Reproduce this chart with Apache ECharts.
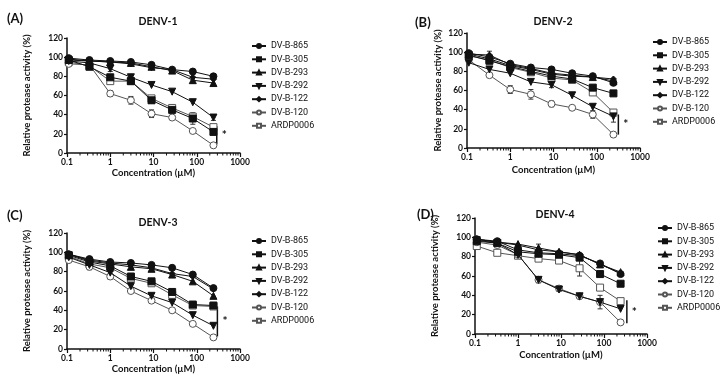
<!DOCTYPE html>
<html>
<head>
<meta charset="utf-8">
<script src="https://cdn.jsdelivr.net/npm/echarts@6/dist/echarts.min.js"></script>
<style>html,body{margin:0;background:#fff}#chart{width:721px;height:378px}</style>
</head>
<body>
<div id="chart"></div>
<script>
// concentrations (3-fold dilution, µM)
const conc = [0.11, 0.33, 1, 3, 9, 27, 81, 243];
const compounds = ['DV-B-865', 'DV-B-305', 'DV-B-293', 'DV-B-292', 'DV-B-122', 'DV-B-120', 'ARDP0006'];
const panelTitles = ['DENV-1', 'DENV-2', 'DENV-3', 'DENV-4'];
const panelLetters = ['(A)', '(B)', '(C)', '(D)'];
const xTicks = [0.1, 1, 10, 100, 1000];

// relative protease activity (%), rows follow compounds order
const denv1 = [
    [99, 97, 96, 95, 92, 87, 85, 80],
    [97, 90, 79, 75, 55, 45, 36, 22],
    [98, 96, 95, 94, 90, 86, 76, 73],
    [96, 94, 88, 79, 71, 64, 53, 37],
    [97, 96, 95, 93, 89, 87, 79, 77],
    [93, 92, 62, 55, 41, 37, 23, 8],
    [95, 91, 75, 75, 57, 47, 38, 27]
];
const denv2 = [
    [99, 95, 88, 84, 82, 78, 75, 68],
    [97, 91, 85, 80, 75, 72, 63, 57],
    [98, 97, 87, 83, 78, 76, 74, 70],
    [89, 82, 78, 69, 66, 55, 43, 33],
    [98, 93, 86, 82, 77, 75, 74, 72],
    [92, 76, 61, 56, 46, 42, 35, 14],
    [96, 92, 84, 79, 73, 71, 58, 37]
];
const denv3 = [
    [98, 93, 90, 89, 87, 84, 77, 63],
    [97, 90, 86, 75, 70, 59, 46, 45],
    [98, 91, 88, 85, 83, 77, 70, 55],
    [95, 87, 79, 65, 55, 48, 35, 24],
    [98, 92, 89, 87, 84, 78, 75, 62],
    [92, 85, 75, 60, 50, 40, 26, 12],
    [96, 88, 84, 73, 68, 56, 45, 44]
];
const denv4 = [
    [98, 96, 87, 84, 83, 81, 73, 62],
    [96, 94, 85, 83, 82, 79, 62, 52],
    [98, 95, 93, 89, 85, 82, 72, 64],
    [97, 94, 82, 56, 46, 39, 33, 26],
    [98, 95, 92, 87, 85, 82, 72, 63],
    [95, 92, 82, 56, 47, 39, 33, 12],
    [91, 84, 81, 78, 76, 68, 48, 34]
];

// error bars: [compound index, concentration index, +/- error]
const errors1 = [[5, 2, 3], [5, 3, 4], [5, 4, 4], [1, 6, 6], [3, 7, 3], [3, 2, 3], [1, 4, 3], [6, 5, 3], [2, 6, 3]];
const errors2 = [[2, 1, 4], [5, 2, 4], [5, 3, 5], [5, 4, 3], [5, 6, 4], [3, 7, 6], [6, 7, 3], [3, 4, 3]];
const errors3 = [[5, 1, 3], [5, 2, 3], [1, 3, 2]];
const errors4 = [[2, 3, 4], [6, 5, 8], [3, 6, 7], [3, 3, 3], [5, 4, 3], [0, 4, 2]];

// significance bars: [x, low, high]
const sigBars = [[290, 9, 28], [316, 14, 35], [300, 13, 44], [340, 11, 35]];

const panelData = [denv1, denv2, denv3, denv4];
const panelErrors = [errors1, errors2, errors3, errors4];

const grids = [
    { left: 67, top: 38, width: 173, height: 115 },
    { left: 467, top: 33, width: 173, height: 115 },
    { left: 67, top: 233, width: 173, height: 116 },
    { left: 475, top: 218, width: 172, height: 116 }
];
const yNameGaps = [35, 24, 35, 35];
const xNameGaps = [15, 17, 14, 16];
const legendPos = [[251, 41], [652, 37], [251, 236], [657, 223]];
const titlePos = [[153, 11], [548, 11], [153, 212], [550, 204]];
const letterPos = [[2, 7], [410, 11], [2, 204], [412, 203]];

const FONT = 'Lato';
const downTri = 'path://M0,0L10,0L5,9Z';
const styles = [
    { symbol: 'circle', size: 7, fill: '#111', stroke: '#111' },
    { symbol: 'rect', size: 7, fill: '#111', stroke: '#111' },
    { symbol: 'triangle', size: 7, fill: '#111', stroke: '#111' },
    { symbol: downTri, size: 7, fill: '#111', stroke: '#111' },
    { symbol: 'diamond', size: 6, fill: '#111', stroke: '#111' },
    { symbol: 'circle', size: 7, fill: '#fff', stroke: '#555' },
    { symbol: 'rect', size: 7, fill: '#fff', stroke: '#555' }
];

// minor tick values of the log axis
const minorTicks = [];
for (let d = 0.1; d < 1000; d *= 10) {
    for (let k = 2; k <= 9; k++) minorTicks.push(+(d * k).toPrecision(3));
}

function errRender(params, api) {
    const x = api.value(0);
    const lo = api.coord([x, api.value(1)]);
    const hi = api.coord([x, api.value(2)]);
    const w = 2.5;
    const st = { stroke: '#333', lineWidth: 1 };
    return {
        type: 'group',
        children: [
            { type: 'line', shape: { x1: lo[0], y1: lo[1], x2: hi[0], y2: hi[1] }, style: st },
            { type: 'line', shape: { x1: lo[0] - w, y1: lo[1], x2: lo[0] + w, y2: lo[1] }, style: st },
            { type: 'line', shape: { x1: hi[0] - w, y1: hi[1], x2: hi[0] + w, y2: hi[1] }, style: st }
        ]
    };
}

function minorRender(params, api) {
    const p = api.coord([api.value(0), 0]);
    return {
        type: 'line',
        shape: { x1: p[0], y1: p[1], x2: p[0], y2: p[1] + 2.5 },
        style: { stroke: '#111', lineWidth: 1 }
    };
}

function sigRender(params, api) {
    const x = api.value(0);
    const lo = api.coord([x, api.value(1)]);
    const hi = api.coord([x, api.value(2)]);
    return {
        type: 'group',
        children: [
            { type: 'line', shape: { x1: lo[0], y1: lo[1], x2: hi[0], y2: hi[1] }, style: { stroke: '#111', lineWidth: 1.5 } },
            { type: 'text', x: lo[0] + 5, y: (lo[1] + hi[1]) / 2, style: { text: '*', fill: '#111', font: 'bold 12px ' + FONT, textVerticalAlign: 'middle' } }
        ]
    };
}

const option = {
    animation: false,
    backgroundColor: '#fff',
    title: [],
    grid: grids,
    xAxis: [],
    yAxis: [],
    legend: [],
    series: []
};

panelData.forEach((rows, p) => {
    option.title.push({
        text: panelTitles[p], left: titlePos[p][0], top: titlePos[p][1],
        textAlign: 'center',
        textStyle: { fontFamily: FONT, fontSize: 10.5, fontWeight: 'bold', color: '#111' }
    });
    option.title.push({
        text: panelLetters[p], left: letterPos[p][0], top: letterPos[p][1],
        textStyle: { fontFamily: FONT, fontSize: 13, fontWeight: 'bold', color: '#111' }
    });
    option.xAxis.push({
        type: 'log', logBase: 10, gridIndex: p, min: 0.1, max: 1000,
        name: 'Concentration (\u00b5M)', nameLocation: 'middle', nameGap: xNameGaps[p],
        nameTextStyle: { fontFamily: FONT, fontSize: 9.5, fontWeight: 'bold', color: '#111' },
        axisLine: { lineStyle: { color: '#111', width: 1.5 } },
        axisTick: { length: 4, lineStyle: { color: '#111', width: 1.2 } },
        axisLabel: {
            fontFamily: FONT, fontSize: 8.5, fontWeight: 'bold', color: '#111', margin: 5,
            formatter: v => String(xTicks.find(t => Math.abs(t - v) / t < 1e-6) ?? v)
        },
        splitLine: { show: false }
    });
    option.yAxis.push({
        type: 'value', gridIndex: p, min: 0, max: 120, interval: 20,
        name: 'Relative protease activity (%)', nameLocation: 'middle', nameGap: yNameGaps[p],
        nameTextStyle: { fontFamily: FONT, fontSize: 9.5, fontWeight: 'bold', color: '#111' },
        axisLine: { show: true, lineStyle: { color: '#111', width: 1.5 } },
        axisTick: { show: true, length: 3, lineStyle: { color: '#111', width: 1.2 } },
        axisLabel: { fontFamily: FONT, fontSize: 8.5, fontWeight: 'bold', color: '#111', margin: 4 },
        splitLine: { show: false }
    });
    option.legend.push({
        data: compounds, orient: 'vertical', left: legendPos[p][0], top: legendPos[p][1],
        itemWidth: 14, itemHeight: 5, itemGap: 3.3, selectedMode: false, padding: 0,
        textStyle: { fontFamily: 'Roboto', fontSize: 9, color: '#111', lineHeight: 10 }
    });
    rows.forEach((vals, i) => {
        const s = styles[i];
        option.series.push({
            name: compounds[i], type: 'line', xAxisIndex: p, yAxisIndex: p,
            data: conc.map((c, j) => [c, vals[j]]),
            symbol: s.symbol, symbolSize: s.size, showAllSymbol: true,
            lineStyle: { color: s.stroke, width: 1 },
            itemStyle: { color: s.fill, borderColor: s.stroke, borderWidth: 1 },
            z: 3 + (6 - i) * 0.1
        });
    });
    option.series.push({
        type: 'custom', xAxisIndex: p, yAxisIndex: p, clip: false, silent: true, z: 2,
        data: panelErrors[p].map(([ci, xi, e]) => [conc[xi], rows[ci][xi] - e, rows[ci][xi] + e]),
        renderItem: errRender
    });
    option.series.push({
        type: 'custom', xAxisIndex: p, yAxisIndex: p, clip: false, silent: true, z: 2,
        data: minorTicks.map(m => [m]),
        renderItem: minorRender
    });
    option.series.push({
        type: 'custom', xAxisIndex: p, yAxisIndex: p, clip: false, silent: true, z: 2,
        data: [sigBars[p]],
        renderItem: sigRender
    });
});

const chart = echarts.init(document.getElementById('chart'));
chart.setOption(option);
window.addEventListener('resize', () => chart.resize());
</script>
</body>
</html>
